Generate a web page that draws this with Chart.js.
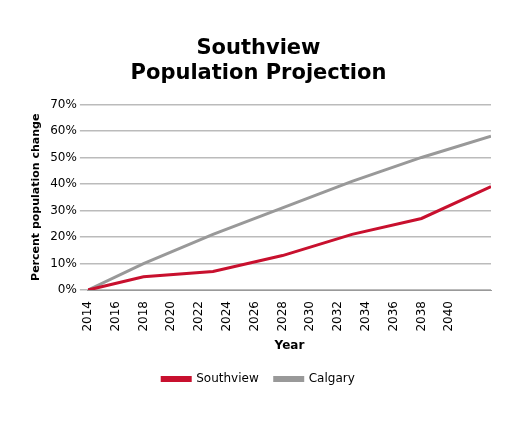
<!DOCTYPE html>
<html>
<head>
<script src="https://cdn.jsdelivr.net/npm/chart.js@4"></script>
<style>
  body { margin: 0; background: #fff; }
  #wrap { width: 509px; height: 425px; }
</style>
</head>
<body>
<div id="wrap"><canvas id="chart"></canvas></div>
<script>
const years = [2014, 2018, 2023, 2028, 2033, 2038, 2043];
const southview = [0, 5, 7, 13, 21, 27, 39];
const calgary = [0, 10, 21, 31, 41, 50, 58];

const toPoints = vals => years.map((y, i) => ({ x: y, y: vals[i] }));

Chart.defaults.font.family = 'DejaVu Sans';
Chart.defaults.color = '#000';

new Chart(document.getElementById('chart'), {
    type: 'line',
    data: {
        datasets: [
            { label: 'Southview', data: toPoints(southview), borderColor: '#c8102e', backgroundColor: '#c8102e', borderWidth: 3, pointRadius: 0, tension: 0 },
            { label: 'Calgary', data: toPoints(calgary), borderColor: '#999999', backgroundColor: '#999999', borderWidth: 3, pointRadius: 0, tension: 0 }
        ]
    },
    options: {
        responsive: true,
        maintainAspectRatio: false,
        animation: false,
        layout: { padding: { left: 26, right: 18, top: 36, bottom: 30 } },
        plugins: {
            title: {
                display: true,
                text: ['Southview', 'Population Projection'],
                font: { size: 21, weight: 'bold' },
                padding: { bottom: 18 }
            },
            legend: {
                position: 'bottom',
                labels: { boxWidth: 28, boxHeight: 3, font: { size: 12 }, padding: 16 }
            }
        },
        scales: {
            x: {
                type: 'linear',
                min: 2014,
                max: 2043,
                grid: { display: false },
                border: { color: '#999' },
                ticks: {
                    stepSize: 2,
                    maxRotation: 90,
                    minRotation: 90,
                    font: { size: 12 },
                    callback: v => (v <= 2042 ? String(v) : '')
                },
                title: { display: true, text: 'Year', font: { size: 12, weight: 'bold' } }
            },
            y: {
                min: 0,
                max: 70,
                grid: { color: '#bbb', lineWidth: 1.5 },
                border: { display: false },
                ticks: { stepSize: 10, font: { size: 12 }, callback: v => v + '%' },
                title: { display: true, text: 'Percent population change', font: { size: 11, weight: 'bold' } }
            }
        }
    }
});
</script>
</body>
</html>
